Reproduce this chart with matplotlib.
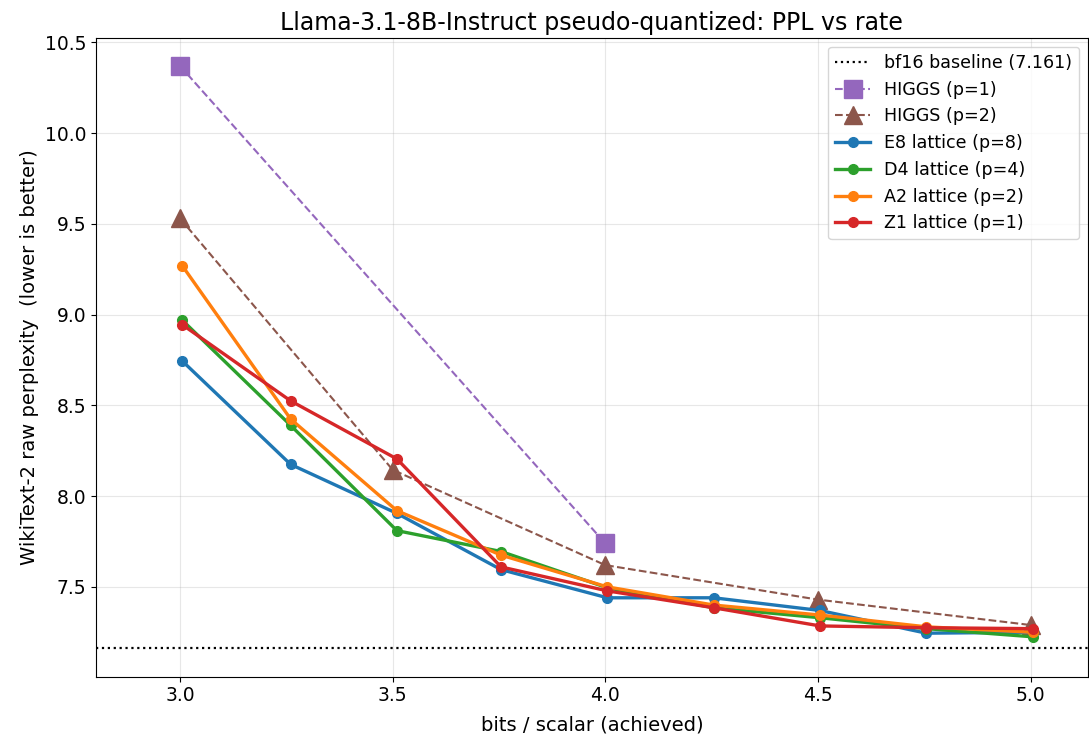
import matplotlib as mpl
mpl.use('Agg')
import matplotlib.pyplot as plt

baseline = 7.161

higgs1_x = [3.0, 4.0]
higgs1_ppl = [10.37, 7.74]

higgs2_x = [3.0, 3.5, 4.0, 4.5, 5.0]
higgs2_ppl = [9.53, 8.145, 7.62, 7.43, 7.29]

lat_x = [3.005, 3.26, 3.51, 3.755, 4.005, 4.255, 4.505, 4.755, 5.005]
e8_ppl = [8.745, 8.175, 7.905, 7.595, 7.44, 7.44, 7.37, 7.245, 7.25]
d4_ppl = [8.97, 8.39, 7.81, 7.695, 7.495, 7.385, 7.33, 7.27, 7.225]
a2_ppl = [9.27, 8.425, 7.92, 7.675, 7.50, 7.40, 7.345, 7.28, 7.25]
z1_ppl = [8.945, 8.525, 8.205, 7.61, 7.478, 7.385, 7.285, 7.275, 7.27]

fig, ax = plt.subplots(figsize=(10.89, 7.34), dpi=100)
fig.subplots_adjust(left=0.088, right=0.999, top=0.948, bottom=0.078)

ax.axhline(baseline, color='k', linestyle=':', linewidth=1.6, label='bf16 baseline (7.161)')
ax.plot(higgs1_x, higgs1_ppl, '--s', color='tab:purple', markersize=13, linewidth=1.5, label='HIGGS (p=1)')
ax.plot(higgs2_x, higgs2_ppl, '--^', color='tab:brown', markersize=13, linewidth=1.5, label='HIGGS (p=2)')
ax.plot(lat_x, e8_ppl, '-o', color='tab:blue', markersize=7, linewidth=2.4, label='E8 lattice (p=8)')
ax.plot(lat_x, d4_ppl, '-o', color='tab:green', markersize=7, linewidth=2.4, label='D4 lattice (p=4)')
ax.plot(lat_x, a2_ppl, '-o', color='tab:orange', markersize=7, linewidth=2.4, label='A2 lattice (p=2)')
ax.plot(lat_x, z1_ppl, '-o', color='tab:red', markersize=7, linewidth=2.4, label='Z1 lattice (p=1)')

ax.set_xlim(2.802, 5.135)
ax.set_ylim(7.005, 10.523)
ax.set_xticks([3.0, 3.5, 4.0, 4.5, 5.0])
ax.set_yticks([7.5, 8.0, 8.5, 9.0, 9.5, 10.0, 10.5])
ax.tick_params(labelsize=13.5)
ax.grid(True, alpha=0.3)
ax.set_xlabel('bits / scalar (achieved)', fontsize=14, labelpad=7)
ax.set_ylabel('WikiText-2 raw perplexity  (lower is better)', fontsize=14)
ax.set_title('Llama-3.1-8B-Instruct pseudo-quantized: PPL vs rate', fontsize=17)
ax.legend(loc='upper right', fontsize=12.6, labelspacing=0.5)

plt.savefig('out.png')
